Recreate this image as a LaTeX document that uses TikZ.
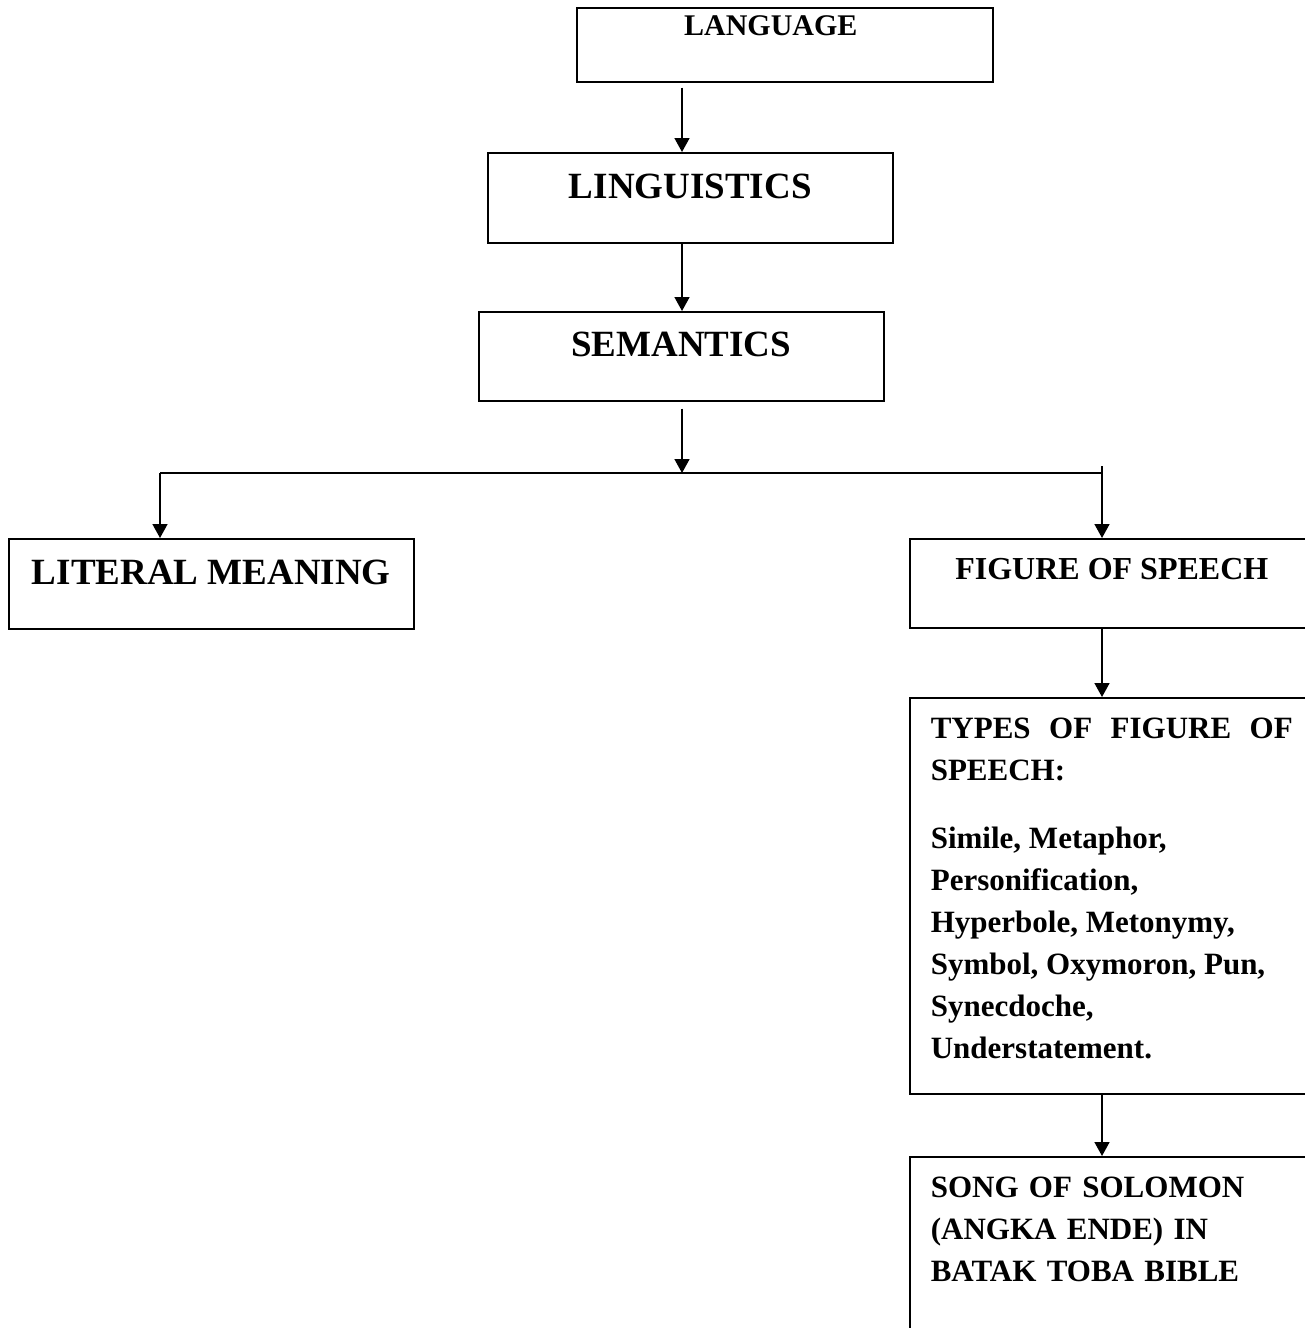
\documentclass[tikz,border=0pt]{standalone}
\usepackage{fontspec}
\setmainfont{Liberation Serif}
\usetikzlibrary{arrows.meta}

\begin{document}
\begin{tikzpicture}[x=1pt, y=-1pt,
    box/.style={draw, line width=1.6pt, anchor=north west, inner sep=0pt},
    arr/.style={-{Triangle[width=15pt,length=14pt]}, line width=1.6pt},
    big/.style={font=\bfseries\fontsize{37}{44}\selectfont},
    mid/.style={font=\bfseries\fontsize{31}{42}\selectfont}]
  \useasboundingbox (0,0) rectangle (1305,1328);
  \clip (0,0) rectangle (1305,1328);

  % boxes
  \node[box, minimum width=416pt, text height=28pt, text depth=46pt,
        font=\bfseries\fontsize{30}{36}\selectfont] (lang) at (576,7) {LANGUAGE\kern28pt};
  \node[box, big, minimum width=405pt, text height=46pt, text depth=44pt] (ling) at (487,152) {LINGUISTICS};
  \node[box, big, minimum width=405pt, text height=45pt, text depth=44pt] (sem) at (478,311) {SEMANTICS};
  \node[box, big, minimum width=405pt, text height=46pt, text depth=44pt] (lit) at (8,538) {LITERAL MEANING};
  \node[box, font=\bfseries\fontsize{32}{40}\selectfont, minimum width=404pt,
        text height=41pt, text depth=48pt] (fig) at (909,538) {FIGURE OF SPEECH};
  \node[box, mid, text width=362pt, inner xsep=21pt, align=justify,
        text height=41pt, text depth=355pt] (types) at (909,697)
    {TYPES OF FIGURE OF SPEECH:\\[26pt]
     Simile, Metaphor,\\
     Personification,\\
     Hyperbole, Metonymy,\\
     Symbol, Oxymoron, Pun,\\
     Synecdoche,\\
     Understatement.};
  \node[box, mid, text width=362pt, inner xsep=21pt, align=left,
        text height=41pt, text depth=300pt] (song) at (909,1156)
    {SONG OF SOLOMON\\
     (ANGKA ENDE) IN\\
     BATAK TOBA BIBLE};

  % branch points
  \coordinate (split) at (682,473);
  \coordinate (lturn) at (160,473);
  \coordinate (rturn) at (1102,473);
  \coordinate (rtick) at (1102,466);

  % connectors
  \draw[arr, shorten <=5pt] (lang.south -| split) -- (ling.north -| split);
  \draw[arr] (ling.south -| split) -- (sem.north -| split);
  \draw[arr, shorten <=7pt] (sem.south -| split) -- (split);
  \draw[line width=1.6pt] (lturn) -- (rturn);
  \draw[arr] (lturn) -- (lit.north -| lturn);
  \draw[arr] (rtick) -- (fig.north -| rturn);
  \draw[arr] (fig.south -| rturn) -- (types.north -| rturn);
  \draw[arr] (types.south -| rturn) -- (song.north -| rturn);
\end{tikzpicture}
\end{document}
